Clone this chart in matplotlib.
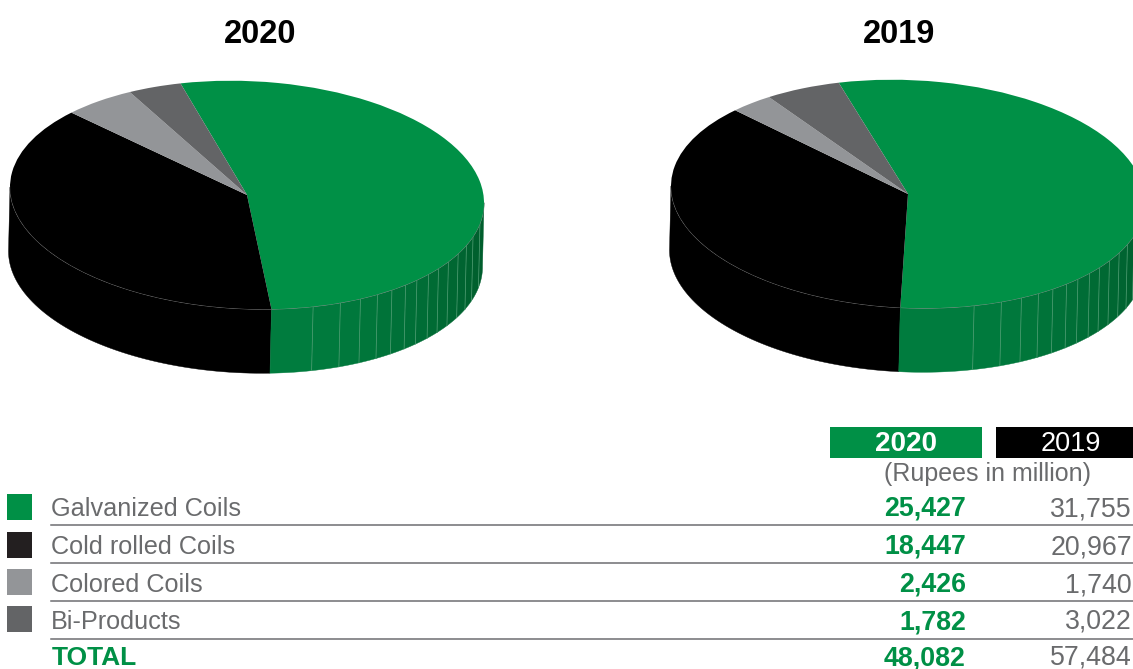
import numpy as np
import matplotlib
matplotlib.use("Agg")
import matplotlib.pyplot as plt
from matplotlib.patches import Rectangle
from matplotlib.transforms import Affine2D

plt.rcParams['font.family'] = ['Liberation Sans', 'DejaVu Sans']

categories = ["Galvanized Coils", "Cold rolled Coils", "Colored Coils", "Bi-Products"]
values_2020 = [25427, 18447, 2426, 1782]
values_2019 = [31755, 20967, 1740, 3022]
total_2020 = 48082
total_2019 = 57484

GREEN = "#009046"
TEXT = "#6a6b6d"
slice_colors = [GREEN, "#000000", "#939598", "#636466"]
legend_colors = [GREEN, "#231f20", "#939598", "#636466"]

# angles (deg) where the shaded bands on the green wall change
band_edges = [-73.8, -66.8, -61.4, -56.6, -52.3, -48, -44.2, -40, -36.1, -31.8, -27, -22.2, -17.5, -10.6, 0]

RX, RY = 237, 114
SLOPE = 0.033
DEPTH = 64


def rim(theta, cx, cy, dx=0, dy=0):
    t = np.radians(theta)
    x, y = RX * np.cos(t), -RY * np.sin(t)
    return cx + dx + x, cy + dy + y + SLOPE * x


def wall(ax, a, b, cx, cy, color):
    theta = np.linspace(a, b, 60)
    x1, y1 = rim(theta, cx, cy)
    x2, y2 = rim(theta, cx, cy, -1.5, DEPTH)
    ax.fill(np.r_[x1, x2[::-1]], np.r_[y1, y2[::-1]], color=color, lw=0.3, zorder=1)


def draw_pie(ax, values, cx, cy, start):
    green_end = start - 360 * values[0] / sum(values)

    # side wall first, the top of the disc covers it
    wall(ax, green_end, -180, cx, cy, "#000000")
    edges = [green_end] + band_edges
    for i in range(len(edges) - 1):
        f = i / (len(edges) - 2)
        shade = np.array([0, 124, 62]) * (1 - f) + np.array([0, 94, 45]) * f
        wall(ax, edges[i], edges[i + 1], cx, cy, shade / 255)
    for e in edges[1:-1]:
        x1, y1 = rim(e, cx, cy)
        x2, y2 = rim(e, cx, cy, -1.5, DEPTH)
        ax.plot([x1, x2], [y1, y2], color="#4f9e73", lw=0.5, zorder=2)

    # thin light edge along the front of the top
    theta = np.linspace(-180, 0, 200)
    ax.plot(*rim(theta, cx, cy), color="#8a8a8a", lw=0.5, zorder=2)

    tr = Affine2D(np.array([[RX, 0, cx], [SLOPE * RX, -RY, cy], [0, 0, 1]])) + ax.transData
    wedges, _ = ax.pie(values, colors=slice_colors, startangle=start, counterclock=False)
    for w in wedges:
        w.set_transform(tr)
        w.set_zorder(3)
        w.set_linewidth(0)


fig = plt.figure(figsize=(11.33, 6.69), dpi=100)
ax = fig.add_axes([0, 0, 1, 1])

draw_pie(ax, values_2020, 247, 195, 106.3)
draw_pie(ax, values_2019, 908, 194, 107)

ax.set_xlim(0, 1133)
ax.set_ylim(669, 0)
ax.set_aspect('auto')
ax.axis('off')

ax.text(260, 43, "2020", fontsize=23.5, fontweight='bold', color="black", ha='center', va='baseline')
ax.text(899, 43, "2019", fontsize=23.5, fontweight='bold', color="black", ha='center', va='baseline')

# table header
ax.add_patch(Rectangle((830, 427), 152, 31, color=GREEN, lw=0))
ax.add_patch(Rectangle((996, 427), 137, 31, color="#000000", lw=0))
ax.text(906, 451, "2020", fontsize=20, fontweight='bold', color="white", ha='center', va='baseline')
ax.text(1071, 451, "2019", fontsize=19.5, color="white", ha='center', va='baseline')
ax.text(988, 481, "(Rupees in million)", fontsize=18, color=TEXT, ha='center', va='baseline')

baselines = [516, 554, 592, 629]
squares = [494, 532, 569, 606]
rules = [525, 563, 601, 639]
for i, name in enumerate(categories):
    ax.add_patch(Rectangle((7, squares[i]), 25, 26, color=legend_colors[i], lw=0))
    ax.text(51, baselines[i], name, fontsize=18.2, color=TEXT, va='baseline')
    ax.text(966, baselines[i], f"{values_2020[i]:,}", fontsize=19.3, fontweight='bold', color=GREEN, ha='right', va='baseline')
    ax.text(1132, baselines[i], f"{values_2019[i]:,}", fontsize=19.3, color=TEXT, ha='right', va='baseline')
    ax.plot([51, 1133], [rules[i], rules[i]], color="#6d6e71", lw=1.1)

ax.text(52, 665, "TOTAL", fontsize=19, fontweight='bold', color=GREEN, va='baseline')
ax.text(966, 665, f"{total_2020:,}", fontsize=19.3, fontweight='bold', color=GREEN, ha='right', va='baseline')
ax.text(1132, 665, f"{total_2019:,}", fontsize=19.3, color=TEXT, ha='right', va='baseline')

plt.savefig("out.png", dpi=100)
